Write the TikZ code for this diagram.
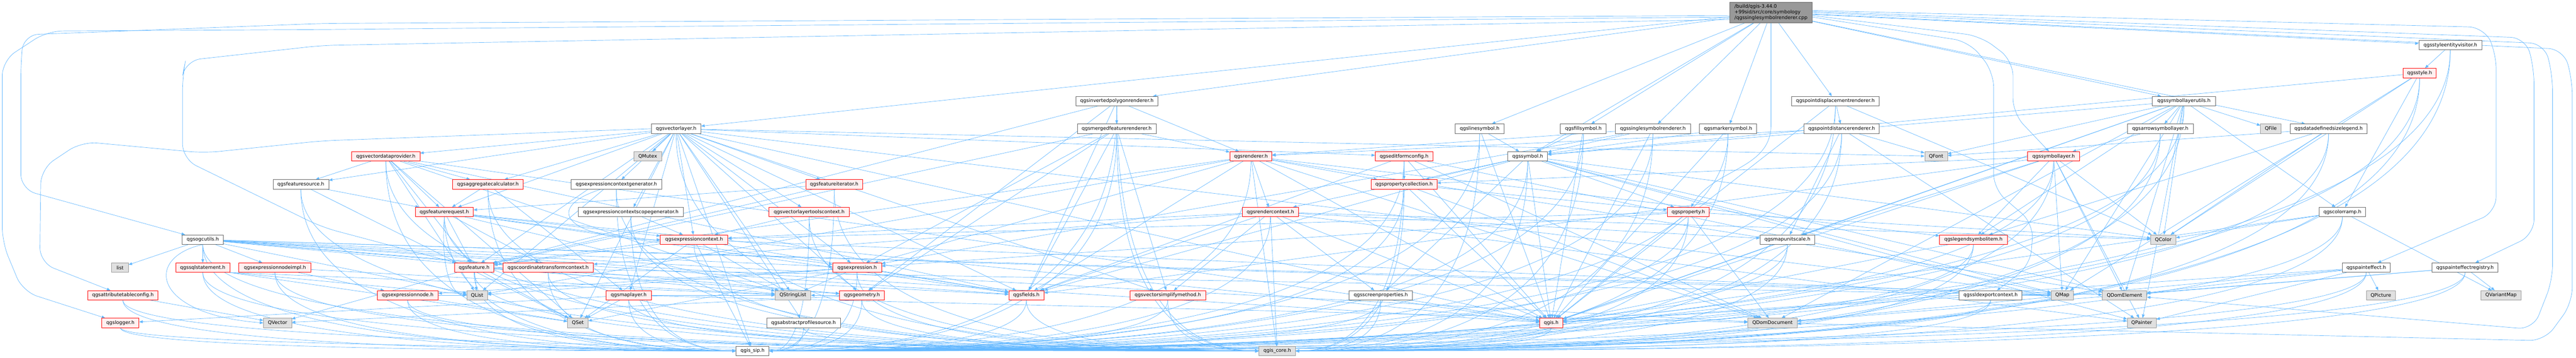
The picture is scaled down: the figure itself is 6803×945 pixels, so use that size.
\documentclass[tikz,border=0pt]{standalone}
\usepackage{fontspec}
\setmainfont{DejaVu Sans}
\usetikzlibrary{arrows.meta,calc,backgrounds}
\definecolor{edgec}{HTML}{63B8FF}
\definecolor{redfill}{HTML}{FFF0F0}
\definecolor{grayfill}{HTML}{E0E0E0}
\definecolor{graydraw}{HTML}{999999}
\definecolor{wdraw}{HTML}{666666}
\definecolor{rootfill}{HTML}{999999}
\tikzset{
  base/.style={draw, rectangle, minimum height=18.6pt, inner xsep=2pt, inner ysep=0pt,
    font=\fontsize{9.6}{11.25}\selectfont, line width=0.75pt, text=black},
  wnode/.style={base, fill=white, draw=wdraw},
  rnode/.style={base, fill=redfill, draw=red},
  gnode/.style={base, fill=grayfill, draw=graydraw},
  rootnode/.style={base, fill=rootfill, draw=wdraw, align=left, minimum height=41pt},
  lnk/.style={draw=edgec, line width=0.7pt, -{Triangle[length=7pt,width=5.5pt]}},
  route/.style={lnk, rounded corners=30pt},
}
\newcommand\nd[6]{\node[#2, minimum width={(#4-#3)*0.75pt}] (#1) at ({(#3+#4)/2},#5) {#6};}
\newcommand\cnS[2]{\draw[lnk] (#1) -- (#2);}
\newcommand\cnL[2]{\draw[lnk] (#1.south) .. controls ($(#1.south)!0.8!(#1.south|-#2.west)$) and ($(#2.west)!0.5!(#1.south|-#2.west)$) .. (#2.west);}
\newcommand\cnR[2]{\draw[lnk] (#1.south) .. controls ($(#1.south)!0.8!(#1.south|-#2.east)$) and ($(#2.east)!0.5!(#1.south|-#2.east)$) .. (#2.east);}
\begin{document}
\begin{tikzpicture}[x=0.75pt,y=-0.75pt]
\useasboundingbox (0,0) rectangle (6803,945);
% ---------------- nodes ----------------
\nd{R}{rootnode}{4568}{4786}{33}{/build/qgis-3.44.0\\+99sid/src/core/symbology\\/qgssinglesymbolrenderer.cpp}
\nd{sev}{wnode}{6388}{6554}{119}{qgsstyleentityvisitor.h}
\nd{stylh}{rnode}{6346}{6434}{193}{qgsstyle.h}
\nd{ipr}{wnode}{2841}{3058}{267}{qgsinvertedpolygonrenderer.h}
\nd{pdisp}{wnode}{4731}{4963}{267}{qgspointdisplacementrenderer.h}
\nd{slu}{wnode}{5684}{5851}{267}{qgssymbollayerutils.h}
\nd{vl}{wnode}{1720}{1851}{340}{qgsvectorlayer.h}
\nd{mfr}{wnode}{2845}{3053}{340}{qgsmergedfeaturerenderer.h}
\nd{lsym}{wnode}{3843}{3972}{340}{qgslinesymbol.h}
\nd{fsym}{wnode}{4121}{4242}{340}{qgsfillsymbol.h}
\nd{ssr}{wnode}{4266}{4464}{340}{qgssinglesymbolrenderer.h}
\nd{msym}{wnode}{4488}{4639}{340}{qgsmarkersymbol.h}
\nd{pdist}{wnode}{4764}{4963}{340}{qgspointdistancerenderer.h}
\nd{asl}{wnode}{5618}{5792}{340}{qgsarrowsymbollayer.h}
\nd{qfile}{gnode}{5970}{6024}{340}{QFile}
\nd{ddsl}{wnode}{6048}{6251}{340}{qgsdatadefinedsizelegend.h}
\nd{vdp}{rnode}{929}{1109}{413}{qgsvectordataprovider.h}
\nd{qmutex}{gnode}{1674}{1747}{413}{QMutex}
\nd{rend}{rnode}{3248}{3359}{413}{qgsrenderer.h}
\nd{efc}{rnode}{3632}{3784}{413}{qgseditformconfig.h}
\nd{sym}{wnode}{3982}{4087}{413}{qgssymbol.h}
\nd{qfont}{gnode}{5083}{5143}{413}{QFont}
\nd{slayer}{rnode}{5355}{5492}{413}{qgssymbollayer.h}
\nd{fsrc}{wnode}{721}{868}{487}{qgsfeaturesource.h}
\nd{aggc}{rnode}{1195}{1382}{487}{qgsaggregatecalculator.h}
\nd{ecg}{wnode}{1508}{1747}{487}{qgsexpressioncontextgenerator.h}
\nd{fit}{rnode}{2128}{2278}{487}{qgsfeatureiterator.h}
\nd{pcoll}{rnode}{3621}{3795}{487}{qgspropertycollection.h}
\nd{freq}{rnode}{1097}{1250}{560}{qgsfeaturerequest.h}
\nd{ecsg}{wnode}{1527}{1805}{560}{qgsexpressioncontextscopegenerator.h}
\nd{vltc}{rnode}{2031}{2243}{560}{qgsvectorlayertoolscontext.h}
\nd{rctx}{rnode}{3281}{3429}{560}{qgsrendercontext.h}
\nd{prop}{rnode}{4403}{4514}{560}{qgsproperty.h}
\nd{cramp}{wnode}{6125}{6247}{560}{qgscolorramp.h}
\nd{ogc}{wnode}{481}{590}{633}{qgsogcutils.h}
\nd{ectx}{rnode}{1744}{1922}{633}{qgsexpressioncontext.h}
\nd{mus}{wnode}{4648}{4793}{633}{qgsmapunitscale.h}
\nd{lsi}{rnode}{5122}{5301}{633}{qgslegendsymbolitem.h}
\nd{qcolor}{gnode}{5680}{5746}{633}{QColor}
\nd{lst}{gnode}{295}{339}{707}{list}
\nd{sql}{rnode}{464}{607}{707}{qgssqlstatement.h}
\nd{eni}{rnode}{631}{821}{707}{qgsexpressionnodeimpl.h}
\nd{feat}{rnode}{1200}{1304}{707}{qgsfeature.h}
\nd{ctc}{rnode}{1328}{1567}{707}{qgscoordinatetransformcontext.h}
\nd{expr}{rnode}{2199}{2328}{707}{qgsexpression.h}
\nd{peff}{wnode}{6186}{6312}{707}{qgspainteffect.h}
\nd{pereg}{wnode}{6423}{6597}{707}{qgspainteffectregistry.h}
\nd{atc}{rnode}{232}{417}{780}{qgsattributetableconfig.h}
\nd{enode}{rnode}{996}{1157}{780}{qgsexpressionnode.h}
\nd{qlist}{gnode}{1233}{1287}{780}{QList}
\nd{ml}{rnode}{1601}{1720}{780}{qgsmaplayer.h}
\nd{qsl}{gnode}{2047}{2141}{780}{QStringList}
\nd{geom}{rnode}{2217}{2335}{780}{qgsgeometry.h}
\nd{fields}{rnode}{2664}{2757}{780}{qgsfields.h}
\nd{vsm}{rnode}{2984}{3184}{780}{qgsvectorsimplifymethod.h}
\nd{scrp}{wnode}{3563}{3730}{780}{qgsscreenproperties.h}
\nd{sld}{wnode}{5174}{5340}{780}{qgssldexportcontext.h}
\nd{qmap}{gnode}{5417}{5476}{780}{QMap}
\nd{qdomel}{gnode}{5552}{5669}{780}{QDomElement}
\nd{qpicture}{gnode}{6249}{6326}{780}{QPicture}
\nd{qvmap}{gnode}{6552}{6658}{780}{QVariantMap}
\nd{lgr}{rnode}{269}{367}{853}{qgslogger.h}
\nd{qvec}{gnode}{696}{770}{853}{QVector}
\nd{qset}{gnode}{1499}{1553}{853}{QSet}
\nd{aps}{wnode}{2025}{2219}{853}{qgsabstractprofilesource.h}
\nd{qgis}{rnode}{4066}{4127}{853}{qgis.h}
\nd{qdomdoc}{gnode}{4616}{4746}{853}{QDomDocument}
\nd{qpainter}{gnode}{5618}{5694}{853}{QPainter}
\nd{sip}{wnode}{1944}{2031}{927}{qgis\_sip.h}
\nd{core}{gnode}{3325}{3421}{927}{qgis\_core.h}
% ---------------- edges ----------------
\begin{scope}[on background layer]
\fill[white] (0,0) rectangle (6803,945);
% root
\cnS{R}{ssr}\cnS{R}{msym}\cnS{R}{pdisp}\cnS{R}{lsym}\cnS{R}{fsym}\cnS{R}{sym}
\cnS{R}{vl}\cnS{R}{ipr}\cnS{R}{slu}\cnS{R}{sev}\cnS{R}{ddsl}
\draw[lnk] (R.south) -- (4677,330) to[out=-90,in=60] (prop);
\draw[route] ([yshift=-6pt]R.west) -- (850,62) -- (62,92) -- (55,170) -- (55,500) -- (ogc);
\draw[route] ([yshift=-9pt]R.west) -- (850,78) -- (125,82) -- (6,160) -- (6,640) -- (60,770) -- (lgr);
\draw[route] ([yshift=-14pt]R.west) -- (850,120) -- (490,160) -- (482,200) -- (482,420) -- (850,600) -- (feat);
\draw[route] ([yshift=-6pt]R.east) -- (5230,95) -- (5316,160) -- (5316,300) -- (slayer);
\draw[route] ([yshift=-9pt]R.east) -- (5200,110) -- (5265,190) -- (5265,500) -- (5370,590) -- (5362,700) -- (sld);
\draw[route] ([yshift=4pt]R.east) -- (6560,72) -- (6592,140) -- (6592,560) -- (peff);
\draw[route] ([yshift=2pt]R.east) -- (6670,100) -- (6692,180) -- (6692,620) -- (pereg);
\draw[route] (R.east) -- (6720,115) -- (6741,200) -- (6741,740) -- (6690,870) -- (qdomel);
\draw[route] ([yshift=-3pt]R.east) -- (6770,130) -- (6793,210) -- (6793,800) -- (6720,900) -- (qdomdoc);
% renderers and symbols
\cnS{ssr}{rend}\cnS{ssr}{sym}\cnS{ssr}{expr}\cnS{ssr}{qgis}\cnR{ssr}{core}\cnR{ssr}{sip}
\cnS{msym}{sym}\cnS{msym}{qgis}\cnR{msym}{core}\cnR{msym}{sip}
\cnS{lsym}{sym}\cnS{lsym}{qgis}\cnR{lsym}{core}\cnR{lsym}{sip}
\cnS{fsym}{sym}\cnS{fsym}{qgis}\cnR{fsym}{core}\cnR{fsym}{sip}
\cnS{pdisp}{pdist}\cnS{pdisp}{qgis}\cnS{pdisp}{qcolor}\cnR{pdisp}{core}\cnR{pdisp}{sip}
\cnS{pdist}{rend}\cnS{pdist}{mus}\cnS{pdist}{qfont}\cnS{pdist}{qpainter}\cnR{pdist}{core}\cnR{pdist}{sip}
\cnS{ipr}{mfr}\cnS{ipr}{rend}\cnS{ipr}{feat}\cnS{ipr}{geom}\cnS{ipr}{fields}\cnL{ipr}{core}\cnR{ipr}{sip}
\cnS{mfr}{rend}\cnS{mfr}{vsm}\cnS{mfr}{fields}\cnS{mfr}{feat}\cnS{mfr}{geom}\cnS{mfr}{expr}\cnL{mfr}{core}\cnR{mfr}{sip}
\cnS{rend}{rctx}\cnS{rend}{fields}\cnS{rend}{feat}\cnS{rend}{lsi}\cnS{rend}{pcoll}\cnS{rend}{qdomdoc}
\cnS{rend}{qdomel}\cnS{rend}{qlist}\cnS{rend}{qgis}\cnS{rend}{expr}\cnS{rend}{core}\cnR{rend}{sip}
\cnS{rctx}{vsm}\cnS{rctx}{scrp}\cnS{rctx}{qcolor}\cnS{rctx}{qpainter}\cnS{rctx}{ectx}\cnS{rctx}{ctc}
\cnS{rctx}{mus}\cnS{rctx}{qgis}\cnS{rctx}{fields}\cnS{rctx}{core}\cnR{rctx}{sip}
\cnS{sym}{pcoll}\cnS{sym}{scrp}\cnS{sym}{qgis}\cnS{sym}{qcolor}\cnS{sym}{qmap}\cnS{sym}{qpainter}
\cnS{sym}{qdomel}\cnS{sym}{rctx}\cnS{sym}{fields}\cnS{sym}{prop}\cnR{sym}{core}\cnR{sym}{sip}
\cnS{slayer}{pcoll}\cnS{slayer}{qcolor}\cnS{slayer}{qmap}\cnS{slayer}{qdomel}\cnS{slayer}{qpainter}
\cnS{slayer}{qgis}\cnS{slayer}{mus}\cnS{slayer}{fields}\cnS{slayer}{lsi}\cnR{slayer}{core}\cnR{slayer}{sip}
\cnS{slu}{asl}\cnS{slu}{qfont}\cnS{slu}{qcolor}\cnS{slu}{qmap}\cnS{slu}{qdomdoc}\cnS{slu}{qdomel}
\cnS{slu}{qpainter}\cnS{slu}{qfile}\cnS{slu}{qgis}\cnS{slu}{sym}\cnS{slu}{mus}\cnS{slu}{lsi}\cnS{slu}{cramp}
\cnR{slu}{core}\cnR{slu}{sip}
\cnS{asl}{slayer}\cnR{asl}{core}\cnR{asl}{sip}
\cnS{sev}{stylh}\cnR{sev}{core}\cnR{sev}{sip}
\cnS{stylh}{sym}\cnS{stylh}{qcolor}\cnS{stylh}{cramp}\cnS{stylh}{qmap}\cnR{stylh}{core}\cnR{stylh}{sip}
\cnS{ddsl}{qfont}\cnS{ddsl}{qcolor}\cnS{ddsl}{lsi}\cnR{ddsl}{core}\cnR{ddsl}{sip}
\cnS{cramp}{qcolor}\cnS{cramp}{qvmap}\cnS{cramp}{qgis}\cnR{cramp}{core}\cnR{cramp}{sip}
\cnS{peff}{qpicture}\cnS{peff}{qpainter}\cnS{peff}{qdomel}\cnS{peff}{qdomdoc}\cnS{peff}{qgis}\cnR{peff}{core}\cnR{peff}{sip}
\cnS{pereg}{qvmap}\cnS{pereg}{qdomel}\cnS{pereg}{qdomdoc}\cnR{pereg}{core}\cnR{pereg}{sip}
\cnS{lsi}{qgis}\cnR{lsi}{core}\cnR{lsi}{sip}
\cnS{sld}{qmap}\cnS{sld}{qgis}\cnR{sld}{core}\cnR{sld}{sip}
\cnS{prop}{qdomdoc}\cnS{prop}{qcolor}\cnS{prop}{ectx}\cnS{prop}{expr}\cnS{prop}{qgis}\cnR{prop}{core}\cnR{prop}{sip}
\cnS{pcoll}{prop}\cnS{pcoll}{qdomdoc}\cnS{pcoll}{qgis}\cnR{pcoll}{core}\cnR{pcoll}{sip}
\cnS{efc}{pcoll}\cnS{efc}{qgis}\cnS{efc}{qdomdoc}\cnS{efc}{qmap}\cnS{efc}{fields}\cnR{efc}{core}\cnR{efc}{sip}
\cnS{mus}{qgis}\cnR{mus}{core}\cnR{mus}{sip}
\cnS{scrp}{qgis}\cnR{scrp}{core}\cnR{scrp}{sip}
\cnR{qgis}{core}\cnR{qgis}{sip}
% vector layer side
\cnS{vl}{qmutex}\cnS{vl}{ecg}\cnS{vl}{ecsg}\cnS{vl}{aggc}\cnS{vl}{freq}\cnS{vl}{fsrc}\cnS{vl}{fit}
\cnS{vl}{vltc}\cnS{vl}{ectx}\cnS{vl}{expr}\cnS{vl}{qsl}\cnS{vl}{geom}\cnS{vl}{aps}\cnS{vl}{qgis}
\cnS{vl}{efc}\cnS{vl}{fields}\cnS{vl}{vsm}\cnS{vl}{qfont}\cnS{vl}{qset}\cnS{vl}{qlist}\cnS{vl}{qmap}
\cnS{vl}{ml}\cnS{vl}{vdp}\cnS{vl}{feat}\cnS{vl}{sip}\cnL{vl}{core}
\draw[route] (vl.west) -- (850,372) -- (540,404) -- (216,374) -- (108,446) -- (105,694) -- (atc);
\cnS{vdp}{fsrc}\cnS{vdp}{aggc}\cnS{vdp}{freq}\cnS{vdp}{feat}\cnS{vdp}{qlist}\cnS{vdp}{qset}
\cnS{vdp}{qsl}\cnS{vdp}{fields}\cnS{vdp}{qgis}\cnL{vdp}{core}\cnL{vdp}{sip}
\cnS{fsrc}{freq}\cnS{fsrc}{qset}\cnL{fsrc}{core}\cnL{fsrc}{sip}
\cnS{aggc}{freq}\cnS{aggc}{ml}\cnL{aggc}{core}\cnL{aggc}{sip}
\draw[lnk] ([xshift=-30pt]ecg.south) .. controls (1440,545) and (1480,630) .. (ectx.west);
\cnL{ecg}{core}\cnL{ecg}{sip}
\cnS{ecsg}{ectx}\cnL{ecsg}{core}\cnL{ecsg}{sip}
\cnS{fit}{freq}\cnS{fit}{feat}\cnL{fit}{core}\cnR{fit}{sip}
\cnS{vltc}{ectx}\cnL{vltc}{core}\cnR{vltc}{sip}
\cnS{freq}{feat}\cnS{freq}{ctc}\cnS{freq}{expr}\cnS{freq}{ectx}\cnS{freq}{qsl}\cnS{freq}{qgis}
\cnS{freq}{fields}\cnL{freq}{core}\cnL{freq}{sip}
\draw[lnk] (freq.south) .. controls (1165,690) and (1185,775) .. (qlist.west);
\cnS{ectx}{qsl}\cnS{ectx}{qset}\cnS{ectx}{qmap}\cnS{ectx}{feat}\cnS{ectx}{fields}\cnL{ectx}{core}\cnS{ectx}{sip}
\cnS{expr}{qsl}\cnS{expr}{enode}\cnS{expr}{qset}\cnS{expr}{qlist}\cnS{expr}{fields}\cnL{expr}{core}\cnR{expr}{sip}
\cnS{feat}{qlist}\cnS{feat}{qset}\cnS{feat}{geom}\cnS{feat}{fields}\cnS{feat}{qvec}\cnS{feat}{qmap}
\cnL{feat}{core}\cnL{feat}{sip}
\cnL{ctc}{core}\cnL{ctc}{sip}
\cnS{enode}{qset}\cnS{enode}{qlist}\cnL{enode}{core}\cnL{enode}{sip}
\cnS{ml}{qset}\cnS{ml}{qdomdoc}\cnS{ml}{qsl}\cnS{ml}{lgr}\cnL{ml}{core}\cnL{ml}{sip}
\cnS{geom}{qvec}\cnS{geom}{qsl}\cnL{geom}{core}\cnR{geom}{sip}
\cnL{fields}{core}\cnR{fields}{sip}
\cnL{vsm}{core}\cnR{vsm}{sip}
\cnL{aps}{core}\cnR{aps}{sip}
\cnS{atc}{qvec}\cnL{atc}{core}\cnL{atc}{sip}
% ogc utils
\cnS{ogc}{lst}\cnS{ogc}{sql}\cnS{ogc}{eni}\cnS{ogc}{expr}\cnS{ogc}{ctc}\cnS{ogc}{geom}\cnS{ogc}{qmap}
\cnS{ogc}{qlist}\cnS{ogc}{qdomel}\cnS{ogc}{qdomdoc}\cnS{ogc}{qsl}\cnS{ogc}{fields}\cnS{ogc}{qgis}
\draw[lnk] (ogc.south) .. controls (380,680) and (400,830) .. (qvec.west);
\cnL{ogc}{core}\cnL{ogc}{sip}
\draw[lnk] (sql.south east) -- (qlist);
\draw[lnk] (sql.south east) -- (qsl);
\draw[lnk] (sql.south east) -- (qset);
\cnL{sql}{core}\cnL{sql}{sip}
\cnS{eni}{enode}\cnS{eni}{qsl}\cnL{eni}{core}\cnL{eni}{sip}
\cnL{lgr}{core}\cnL{lgr}{sip}
\end{scope}
\end{tikzpicture}
\end{document}
